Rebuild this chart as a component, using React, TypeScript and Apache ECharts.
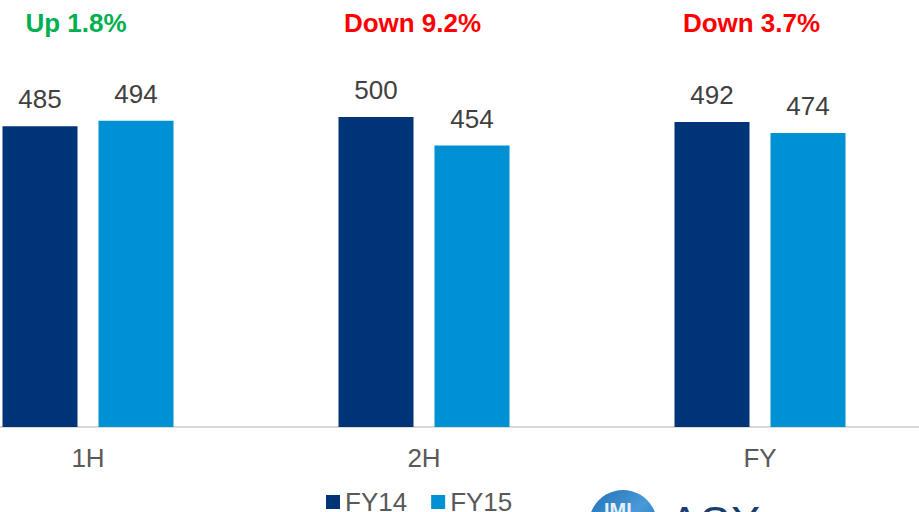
import React, { useEffect, useRef } from "react";
import * as echarts from "echarts";

const categories = ["1H", "2H", "FY"];
const fy14 = [485, 500, 492];
const fy15 = [494, 454, 474];
const changes = ["Up 1.8%", "Down 9.2%", "Down 3.7%"];
const changeUp = [true, false, false];

const FONT = "'Liberation Sans', Arial, sans-serif";
const SHIFT = 80; // chart div extends 80px beyond the left edge of the view

export default function App() {
  const ref = useRef<HTMLDivElement>(null);
  useEffect(() => {
    if (!ref.current) return;
    const chart = echarts.init(ref.current, null, { renderer: "svg" });
    const changeX = [76, 412.5, 751.5];
    const labelStyle = {
      show: true,
      position: "top",
      distance: 14,
      color: "#404040",
      fontSize: 26,
      fontFamily: FONT,
    };
    chart.setOption({
      animation: false,
      textStyle: { fontFamily: FONT },
      grid: { left: 0, right: 0, top: 55, bottom: 85 },
      xAxis: {
        type: "category",
        data: categories,
        axisLine: { lineStyle: { color: "#D9D9D9", width: 2 } },
        axisTick: { show: false },
        axisLabel: { color: "#595959", fontSize: 26, margin: 18, fontFamily: FONT },
      },
      yAxis: { type: "value", min: 0, max: 600, show: false, splitLine: { show: false } },
      legend: {
        data: ["FY14", "FY15"],
        left: 326 + SHIFT,
        top: 489,
        padding: 0,
        itemWidth: 14,
        itemHeight: 14,
        itemGap: 24,
        icon: "rect",
        textStyle: { color: "#595959", fontSize: 26, fontFamily: FONT },
      },
      series: [
        {
          name: "FY14",
          type: "bar",
          data: fy14,
          barWidth: 75,
          barGap: "28%",
          itemStyle: { color: "#003478" },
          label: labelStyle,
        },
        {
          name: "FY15",
          type: "bar",
          data: fy15,
          barWidth: 75,
          itemStyle: { color: "#0090D4" },
          label: labelStyle,
        },
      ],
      graphic: [
        ...changes.map((t, i) => ({
          type: "text",
          x: changeX[i] + SHIFT,
          y: 23,
          style: {
            text: t,
            fill: changeUp[i] ? "#00B050" : "#FF0000",
            font: `bold 26px ${FONT}`,
            align: "center",
            verticalAlign: "middle",
          },
        })),
        {
          type: "circle",
          shape: { cx: 623 + SHIFT, cy: 524, r: 34 },
          style: {
            fill: new echarts.graphic.LinearGradient(0, 0, 1, 1, [
              { offset: 0, color: "#1F6FB5" },
              { offset: 0.5, color: "#4A9AD8" },
              { offset: 1, color: "#1B5EA0" },
            ]),
          },
        },
        {
          type: "text",
          x: 604 + SHIFT,
          y: 500,
          style: { text: "IMI", fill: "#E6F0FA", font: `bold 20px ${FONT}` },
        },
        {
          type: "text",
          x: 669 + SHIFT,
          y: 500,
          style: { text: "ASX", fill: "#1A3D6E", font: `46px ${FONT}`, verticalAlign: "top" },
        },
      ],
    });
    return () => chart.dispose();
  }, []);
  return (
    <div style={{ position: "absolute", left: 0, top: 0, width: 919, height: 512, overflow: "hidden" }}>
      <div
        ref={ref}
        style={{ position: "absolute", left: -SHIFT, top: 0, width: 919 + SHIFT + 9, height: 512 }}
      />
    </div>
  );
}
